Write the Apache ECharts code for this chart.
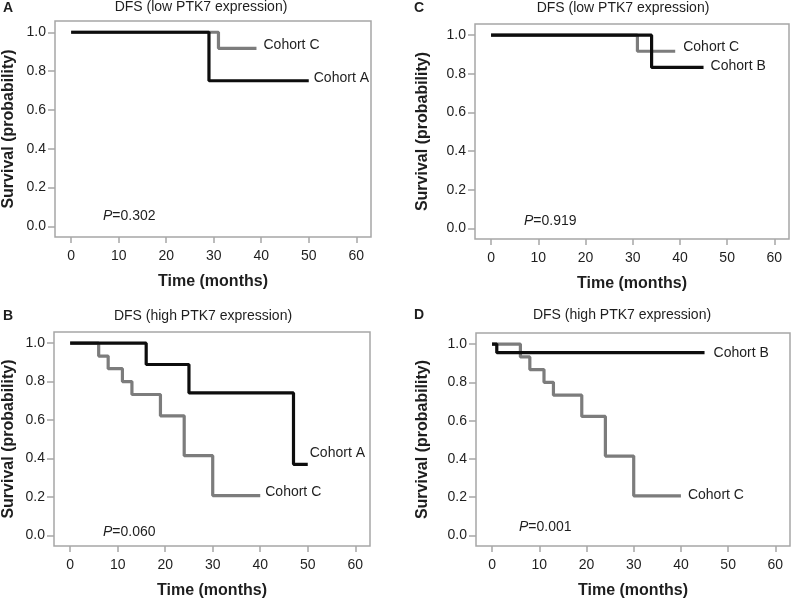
<!DOCTYPE html>
<html>
<head>
<meta charset="utf-8">
<script src="https://cdn.jsdelivr.net/npm/echarts@6/dist/echarts.min.js"></script>
<style>html,body{margin:0;padding:0;background:#fff}#c{width:793px;height:600px}</style>
</head>
<body>
<div id="c"></div>
<script>
// ---- data ----
const xTicks = [0, 10, 20, 30, 40, 50, 60];
const yTicks = [0, 0.2, 0.4, 0.6, 0.8, 1.0];

// Panel A: DFS low PTK7, Cohort A vs Cohort C
const pA_cohortA_time = [0, 29, 50];
const pA_cohortA_surv = [1, 0.75, 0.75];
const pA_cohortC_time = [0, 31, 39];
const pA_cohortC_surv = [1, 0.917, 0.917];

// Panel C: DFS low PTK7, Cohort B vs Cohort C
const pC_cohortB_time = [0, 34, 45];
const pC_cohortB_surv = [1, 0.833, 0.833];
const pC_cohortC_time = [0, 31, 39];
const pC_cohortC_surv = [1, 0.917, 0.917];

// Panel B: DFS high PTK7, Cohort A vs Cohort C
const pB_cohortA_time = [0, 16, 25, 47, 50];
const pB_cohortA_surv = [1, 0.889, 0.741, 0.370, 0.370];
const pB_cohortC_time = [0, 6, 8, 11, 13, 19, 24, 30, 40];
const pB_cohortC_surv = [1, 0.933, 0.867, 0.800, 0.733, 0.622, 0.415, 0.207, 0.207];

// Panel D: DFS high PTK7, Cohort B vs Cohort C
const pD_cohortB_time = [0, 1, 45];
const pD_cohortB_surv = [1, 0.955, 0.955];
const pD_cohortC_time = [0, 6, 8, 11, 13, 19, 24, 30, 40];
const pD_cohortC_surv = [1, 0.933, 0.867, 0.800, 0.733, 0.622, 0.415, 0.207, 0.207];

const titles = ['DFS (low PTK7 expression)', 'DFS (low PTK7 expression)', 'DFS (high PTK7 expression)', 'DFS (high PTK7 expression)'];
const panelLetters = ['A', 'C', 'B', 'D'];
const pValues = ['0.302', '0.919', '0.060', '0.001'];

// ---- layout ----
const FONT = '"Liberation Sans", Arial, sans-serif';
const BLACK = '#0d0d0d', GRAY = '#7c7c7c', FRAME = '#a6a6a6', TXT = '#1e1e1e';
const grids = [
  {left: 54, top: 21, width: 317, height: 216},
  {left: 475, top: 24, width: 314, height: 215},
  {left: 53, top: 332, width: 317, height: 216},
  {left: 476, top: 333, width: 314, height: 215}
];
const yNameGaps = [38, 44, 37, 45];
const titlePos = [[201, 0], [623, 1], [203, 309], [622, 308]];
const letterPos = [[3, 1], [414, 1], [3, 309], [414, 308]];
const pPos = [[103, 216], [524, 221], [103, 532], [519, 527]];

function zip(t, s) { return t.map((v, i) => [v, s[i]]); }

const xAxes = grids.map((g, i) => ({
  gridIndex: i, type: 'value', min: -3.4, max: 63.1, position: 'bottom',
  axisLine: {show: false, onZero: false}, splitLine: {show: false},
  axisTick: {show: true, customValues: xTicks, length: 6, lineStyle: {color: FRAME, width: 1.5}},
  axisLabel: {customValues: xTicks, margin: 12, color: TXT, fontSize: 14, fontFamily: FONT},
  name: 'Time (months)', nameLocation: 'middle', nameGap: 37,
  nameTextStyle: {fontWeight: 'bold', fontSize: 16, color: TXT, fontFamily: FONT}
}));
const yAxes = grids.map((g, i) => ({
  gridIndex: i, type: 'value', min: -0.055, max: 1.058, position: 'left',
  axisLine: {show: false, onZero: false}, splitLine: {show: false},
  axisTick: {show: true, customValues: yTicks, length: 7, lineStyle: {color: FRAME, width: 1.5}},
  axisLabel: {customValues: yTicks, margin: 9, color: TXT, fontSize: 14, fontFamily: FONT,
    formatter: v => Number(v).toFixed(1)},
  name: 'Survival (probability)', nameLocation: 'middle', nameGap: yNameGaps[i],
  nameTextStyle: {fontWeight: 'bold', fontSize: 16, color: TXT, fontFamily: FONT}
}));

function km(idx, name, t, s, color, dist, offY) {
  return {
    type: 'line', name: name, xAxisIndex: idx, yAxisIndex: idx,
    step: 'end', symbol: 'none', showSymbol: false, silent: true,
    data: zip(t, s),
    lineStyle: {color: color, width: 3.2},
    itemStyle: {color: color},
    endLabel: {show: true, formatter: name, distance: dist, offset: [0, offY],
      color: TXT, fontSize: 14, fontFamily: FONT}
  };
}

const series = [
  km(0, 'Cohort C', pA_cohortC_time, pA_cohortC_surv, GRAY, 7, -3),
  km(0, 'Cohort A', pA_cohortA_time, pA_cohortA_surv, BLACK, 5, -3),
  km(1, 'Cohort C', pC_cohortC_time, pC_cohortC_surv, GRAY, 8, -4),
  km(1, 'Cohort B', pC_cohortB_time, pC_cohortB_surv, BLACK, 7, -1),
  km(2, 'Cohort C', pB_cohortC_time, pB_cohortC_surv, GRAY, 5, -3),
  km(2, 'Cohort A', pB_cohortA_time, pB_cohortA_surv, BLACK, 2, -11),
  km(3, 'Cohort C', pD_cohortC_time, pD_cohortC_surv, GRAY, 7, -1),
  km(3, 'Cohort B', pD_cohortB_time, pD_cohortB_surv, BLACK, 9, 0)
];

const graphics = [];
titles.forEach((t, i) => {
  graphics.push({type: 'text', x: titlePos[i][0], y: titlePos[i][1],
    style: {text: t, font: '14px ' + FONT, fill: TXT, align: 'center', verticalAlign: 'top'}});
  graphics.push({type: 'text', x: letterPos[i][0], y: letterPos[i][1],
    style: {text: panelLetters[i], font: 'bold 14px ' + FONT, fill: TXT, verticalAlign: 'top'}});
  graphics.push({type: 'text', x: pPos[i][0], y: pPos[i][1],
    style: {text: '{i|P}=' + pValues[i], font: '14px ' + FONT, fill: TXT, verticalAlign: 'middle',
      rich: {i: {fontStyle: 'italic', fontSize: 14, fontFamily: FONT, fill: TXT}}}});
});

const chart = echarts.init(document.getElementById('c'), null, {renderer: 'canvas'});
chart.setOption({
  animation: false,
  backgroundColor: '#fff',
  grid: grids.map(g => Object.assign({show: true, borderColor: FRAME, borderWidth: 1.5, backgroundColor: 'transparent', containLabel: false}, g)),
  xAxis: xAxes,
  yAxis: yAxes,
  series: series,
  graphic: graphics
});
</script>
</body>
</html>
